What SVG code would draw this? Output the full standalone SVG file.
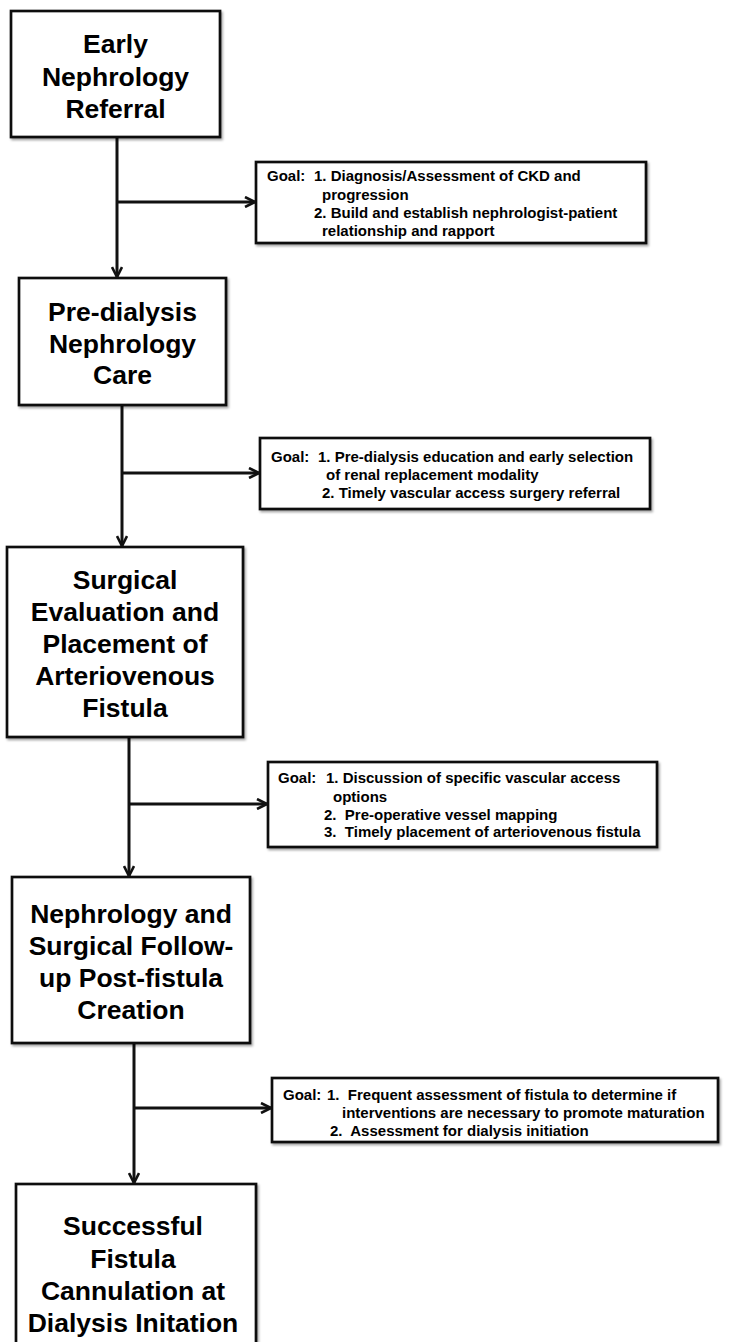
<svg xmlns="http://www.w3.org/2000/svg" width="746" height="1342" viewBox="0 0 746 1342">
<style>
.box{fill:#fff;stroke:#111;stroke-width:2.7;filter:url(#sh)}
.title{font-family:"Liberation Sans",Arial,sans-serif;font-weight:bold;font-size:26.5px;fill:#000;text-anchor:middle}
.goal{font-family:"Liberation Sans",Arial,sans-serif;font-weight:bold;font-size:15px;fill:#000}
.conn{stroke:#111;stroke-width:3;fill:none}
</style>
<defs>
<filter id="sh" x="-5%" y="-5%" width="110%" height="115%">
<feDropShadow dx="1.5" dy="2" stdDeviation="1.2" flood-color="#000" flood-opacity="0.35"/>
</filter>
<marker id="ah" viewBox="0 0 12 12" refX="11" refY="6" markerWidth="12" markerHeight="12" markerUnits="userSpaceOnUse" orient="auto">
<path d="M1,1 L11,6 L1,11" fill="none" stroke="#111" stroke-width="2.6"/>
</marker>
</defs>
<rect width="746" height="1342" fill="#fff"/>

<g id="connectors">
<line class="conn" x1="117" y1="137" x2="117" y2="277" marker-end="url(#ah)"/>
<line class="conn" x1="117" y1="202" x2="255" y2="202" marker-end="url(#ah)"/>
<line class="conn" x1="122" y1="405" x2="122" y2="546" marker-end="url(#ah)"/>
<line class="conn" x1="122" y1="473" x2="259" y2="473" marker-end="url(#ah)"/>
<line class="conn" x1="129" y1="737" x2="129" y2="876" marker-end="url(#ah)"/>
<line class="conn" x1="129" y1="804" x2="267" y2="804" marker-end="url(#ah)"/>
<line class="conn" x1="134" y1="1043" x2="134" y2="1183" marker-end="url(#ah)"/>
<line class="conn" x1="134" y1="1108" x2="271" y2="1108" marker-end="url(#ah)"/>
</g>

<g id="node-early-referral">
<rect class="box" x="11" y="11" width="209" height="126"/>
<text class="title" x="115.5" y="53">Early</text>
<text class="title" x="115.5" y="86">Nephrology</text>
<text class="title" x="115.5" y="118">Referral</text>
</g>

<g id="goal-1">
<rect class="box" x="256" y="162" width="390" height="81"/>
<text class="goal" x="267" y="181">Goal:</text>
<text class="goal" x="314" y="181">1. Diagnosis/Assessment of CKD and</text>
<text class="goal" x="322" y="200">progression</text>
<text class="goal" x="314" y="218">2. Build and establish nephrologist-patient</text>
<text class="goal" x="322" y="236">relationship and rapport</text>
</g>

<g id="node-predialysis">
<rect class="box" x="19" y="278" width="207" height="127"/>
<text class="title" x="122.5" y="321">Pre-dialysis</text>
<text class="title" x="122.5" y="353">Nephrology</text>
<text class="title" x="122.5" y="384">Care</text>
</g>

<g id="goal-2">
<rect class="box" x="260" y="438" width="390" height="71"/>
<text class="goal" x="271" y="462">Goal:</text>
<text class="goal" x="318" y="462">1. Pre-dialysis education and early selection</text>
<text class="goal" x="326" y="480">of renal replacement modality</text>
<text class="goal" x="322" y="498">2. Timely vascular access surgery referral</text>
</g>

<g id="node-surgical">
<rect class="box" x="7" y="547" width="236" height="190"/>
<text class="title" x="125" y="589">Surgical</text>
<text class="title" x="125" y="621">Evaluation and</text>
<text class="title" x="125" y="653">Placement of</text>
<text class="title" x="125" y="685">Arteriovenous</text>
<text class="title" x="125" y="717">Fistula</text>
</g>

<g id="goal-3">
<rect class="box" x="268" y="762" width="389" height="85"/>
<text class="goal" x="278" y="783">Goal:</text>
<text class="goal" x="326" y="783">1. Discussion of specific vascular access</text>
<text class="goal" x="333" y="802">options</text>
<text class="goal" x="324" y="820" xml:space="preserve">2.  Pre-operative vessel mapping</text>
<text class="goal" x="324" y="837" xml:space="preserve">3.  Timely placement of arteriovenous fistula</text>
</g>

<g id="node-followup">
<rect class="box" x="12" y="877" width="238" height="166"/>
<text class="title" x="131" y="923">Nephrology and</text>
<text class="title" x="131" y="955">Surgical Follow-</text>
<text class="title" x="131" y="987">up Post-fistula</text>
<text class="title" x="131" y="1019">Creation</text>
</g>

<g id="goal-4">
<rect class="box" x="272" y="1078" width="446" height="64"/>
<text class="goal" x="283" y="1100">Goal:</text>
<text class="goal" x="327" y="1100" xml:space="preserve">1.  Frequent assessment of fistula to determine if</text>
<text class="goal" x="342" y="1118">interventions are necessary to promote maturation</text>
<text class="goal" x="330" y="1136" xml:space="preserve">2.  Assessment for dialysis initiation</text>
</g>

<g id="node-cannulation">
<rect class="box" x="16" y="1184" width="240" height="170"/>
<text class="title" x="133" y="1235">Successful</text>
<text class="title" x="133" y="1268">Fistula</text>
<text class="title" x="133" y="1300">Cannulation at</text>
<text class="title" x="133" y="1332">Dialysis Initation</text>
</g>
</svg>
